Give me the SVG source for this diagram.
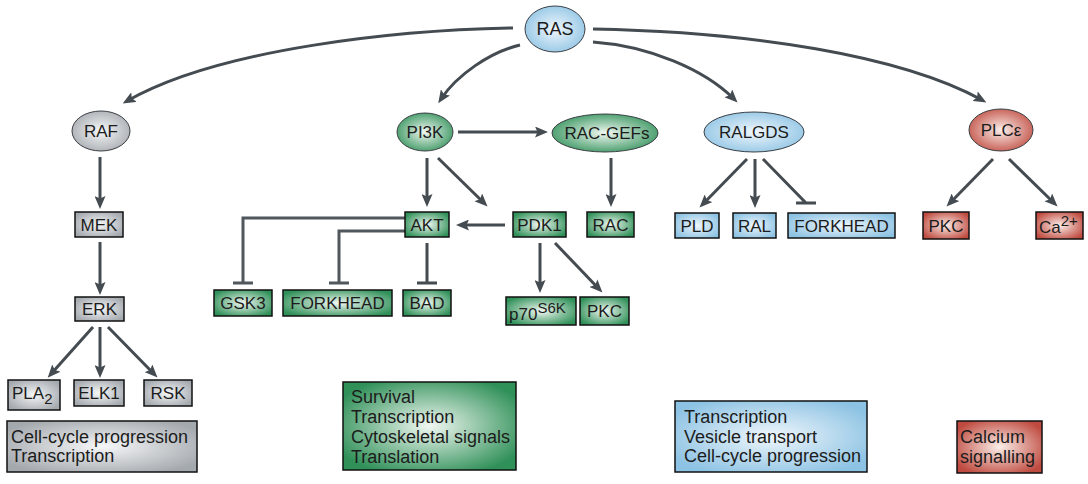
<svg xmlns="http://www.w3.org/2000/svg" width="1088" height="484" viewBox="0 0 1088 484">
<style>
text{font-family:"Liberation Sans",Arial,sans-serif;font-size:17px;fill:#1c1c1c}
.c{text-anchor:middle}
.t{font-size:18px}
.e{stroke:#3a3f44;stroke-width:1}
.b{stroke:#111;stroke-width:1.5}
.grey{fill:url(#gGrey)}
.green{fill:url(#gGreen)}
.blue{fill:url(#gBlue)}
.red{fill:url(#gRed)}
.ln{fill:none;stroke:#444b51;stroke-width:3}
.inh{stroke:#50575d}
.arr{marker-end:url(#ah)}
.sub{font-size:15px}
.sup{font-size:15px}
</style>
<defs>
<radialGradient id="gGrey" cx="0.5" cy="0.5" r="0.6"><stop offset="0" stop-color="#f6f7f8"/><stop offset="1" stop-color="#a4a9ae"/></radialGradient>
<radialGradient id="gGreen" cx="0.5" cy="0.5" r="0.6"><stop offset="0" stop-color="#f1f8f2"/><stop offset="1" stop-color="#2f9058"/></radialGradient>
<radialGradient id="gBlue" cx="0.5" cy="0.5" r="0.6"><stop offset="0" stop-color="#f0f7fc"/><stop offset="1" stop-color="#8cc2e3"/></radialGradient>
<radialGradient id="gRed" cx="0.5" cy="0.5" r="0.6"><stop offset="0" stop-color="#fbeee9"/><stop offset="1" stop-color="#bf4a3f"/></radialGradient>
<marker id="ah" markerUnits="userSpaceOnUse" markerWidth="13" markerHeight="11" viewBox="0 0 13 11" refX="8" refY="5.5" orient="auto">
<path d="M0,0 L13,5.5 L0,11 L2.5,5.5 z" fill="#444b51"/>
</marker>
</defs>

<g id="connectors">
<path class="ln arr" d="M513,28 C400,30 220,48 127,101"/>
<path class="ln arr" d="M520,45 C490,52 457,75 441,99"/>
<path class="ln arr" d="M593,29 C750,32 900,55 982,100"/>
<path class="ln arr" d="M593,42 C650,46 705,70 734,99"/>
<path class="ln arr" d="M100,157 V204"/>
<path class="ln arr" d="M100,242 V290"/>
<path class="ln arr" d="M93,327 L51,374"/>
<path class="ln arr" d="M100,327 V373"/>
<path class="ln arr" d="M108,327 L154,374"/>
<path class="ln arr" d="M458,132 H543"/>
<path class="ln arr" d="M427,158 V202"/>
<path class="ln arr" d="M438,158 L484,203"/>
<path class="ln arr" d="M611,158 V202"/>
<path class="ln arr" d="M505,225 H461"/>
<path class="ln inh" d="M405,218 H243 V283 M233,283 H253"/>
<path class="ln inh" d="M405,231 H339 V283 M329,283 H349"/>
<path class="ln" d="M427,243 V283 M417,283 H437"/>
<path class="ln arr" d="M540,243 V288"/>
<path class="ln arr" d="M555,243 L599,289"/>
<path class="ln arr" d="M747,159 L703,204"/>
<path class="ln arr" d="M755,159 V203"/>
<path class="ln" d="M763,159 L806,203 M796,203 H816"/>
<path class="ln arr" d="M993,159 L950,203"/>
<path class="ln arr" d="M1009,159 L1054,203"/>
</g>

<g id="RAS"><ellipse class="e blue" cx="555" cy="29" rx="30" ry="23"/><text class="c t" x="555" y="35">RAS</text></g>
<g id="RAF"><ellipse class="e grey" cx="101" cy="131" rx="29" ry="20"/><text class="c" x="101" y="137">RAF</text></g>
<g id="PI3K"><ellipse class="e green" cx="425" cy="132" rx="28" ry="19"/><text class="c" x="425" y="138">PI3K</text></g>
<g id="RAC-GEFs"><ellipse class="e green" cx="605" cy="133" rx="53" ry="19"/><text class="c" x="607" y="139">RAC-GEFs</text></g>
<g id="RALGDS"><ellipse class="e blue" cx="754" cy="132" rx="50" ry="20"/><text class="c" x="754" y="138">RALGDS</text></g>
<g id="PLCe"><ellipse class="e red" cx="1001" cy="130" rx="32" ry="21"/><text class="c" x="1001" y="136">PLCε</text></g>

<g id="MEK"><rect class="b grey" x="75" y="212" width="48" height="25"/><text class="c" x="99" y="231">MEK</text></g>
<g id="ERK"><rect class="b grey" x="75" y="297" width="49" height="24"/><text class="c" x="99.5" y="315">ERK</text></g>
<g id="PLA2"><rect class="b grey" x="8" y="380" width="52" height="30"/><text x="12" y="399">PLA<tspan class="sub" dy="5">2</tspan></text></g>
<g id="ELK1"><rect class="b grey" x="74" y="380" width="50" height="26"/><text class="c" x="99" y="399">ELK1</text></g>
<g id="RSK"><rect class="b grey" x="144" y="380" width="48" height="26"/><text class="c" x="168" y="399">RSK</text></g>
<g id="ERK-outcome"><rect class="b grey" x="7" y="421" width="190" height="51"/><text class="t" x="11" y="443">Cell-cycle progression</text><text class="t" x="11" y="462">Transcription</text></g>

<g id="AKT"><rect class="b green" x="405" y="212" width="44" height="25"/><text class="c" x="427" y="231">AKT</text></g>
<g id="PDK1"><rect class="b green" x="513" y="212" width="53" height="25"/><text class="c" x="539.5" y="231">PDK1</text></g>
<g id="RAC"><rect class="b green" x="587" y="212" width="47" height="25"/><text class="c" x="610.5" y="231">RAC</text></g>
<g id="GSK3"><rect class="b green" x="214" y="290" width="58" height="26"/><text class="c" x="243" y="309">GSK3</text></g>
<g id="FORKHEAD-1"><rect class="b green" x="283" y="290" width="109" height="26"/><text class="c" x="337.5" y="309">FORKHEAD</text></g>
<g id="BAD"><rect class="b green" x="403" y="290" width="48" height="26"/><text class="c" x="427" y="309">BAD</text></g>
<g id="p70S6K"><rect class="b green" x="506" y="297" width="70" height="28"/><text x="509" y="320">p70<tspan class="sup" dy="-7">S6K</tspan></text></g>
<g id="PKC-1"><rect class="b green" x="580" y="297" width="49" height="28"/><text class="c" x="604.5" y="317">PKC</text></g>
<g id="PI3K-outcome"><rect class="b green" x="343" y="382" width="173" height="88"/><text class="t" x="351" y="403">Survival</text><text class="t" x="351" y="423">Transcription</text><text class="t" x="351" y="443">Cytoskeletal signals</text><text class="t" x="351" y="463">Translation</text></g>

<g id="PLD"><rect class="b blue" x="675" y="213" width="44" height="25"/><text class="c" x="697" y="232">PLD</text></g>
<g id="RAL"><rect class="b blue" x="733" y="213" width="43" height="25"/><text class="c" x="754.5" y="232">RAL</text></g>
<g id="FORKHEAD-2"><rect class="b blue" x="788" y="213" width="107" height="25"/><text class="c" x="841.5" y="232">FORKHEAD</text></g>
<g id="RALGDS-outcome"><rect class="b blue" x="675" y="401" width="192" height="71"/><text class="t" x="684" y="423">Transcription</text><text class="t" x="684" y="443">Vesicle transport</text><text class="t" x="684" y="462">Cell-cycle progression</text></g>

<g id="PKC-2"><rect class="b red" x="923" y="212" width="46" height="27"/><text class="c" x="946" y="232">PKC</text></g>
<g id="Ca2"><rect class="b red" x="1036" y="212" width="47" height="27"/><text x="1039" y="233">Ca<tspan class="sup" dy="-7">2+</tspan></text></g>
<g id="PLC-outcome"><rect class="b red" x="957" y="421" width="85" height="52"/><text class="t" x="960" y="443">Calcium</text><text class="t" x="960" y="463">signalling</text></g>
</svg>
